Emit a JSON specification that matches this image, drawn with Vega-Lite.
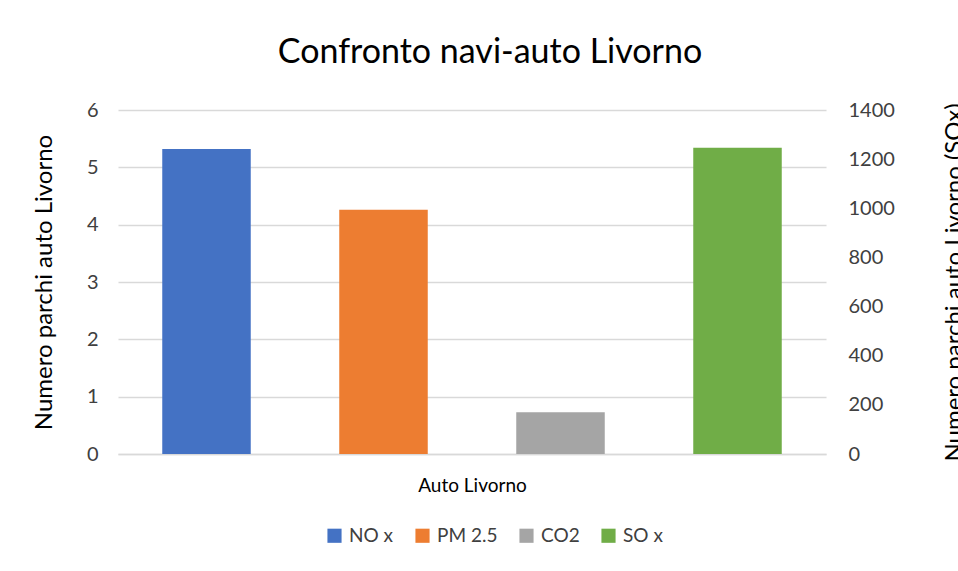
{
  "$schema": "https://vega.github.io/schema/vega-lite/v6.json",
  "width": 708,
  "height": 344,
  "autosize": {"type": "none"},
  "padding": {"left": 118, "top": 110, "right": 132, "bottom": 117},
  "background": "white",
  "title": {"text": "Confronto navi-auto Livorno", "font": "Lato", "fontSize": 34, "fontWeight": "normal", "color": "#000000", "anchor": "middle", "dx": 18, "offset": 30},
  "config": {
    "view": {"stroke": null},
    "axis": {"labelFont": "Lato", "titleFont": "Lato", "labelColor": "#404040", "titleColor": "#000000", "labelFontSize": 20, "titleFontSize": 24, "titleFontWeight": "normal", "labelOverlap": false, "labelFlush": false},
    "legend": {"labelFont": "Lato", "labelFontSize": 19, "labelColor": "#404040"}
  },
  "data": {"values": [
    {"series": "NO x", "value": 5.32},
    {"series": "PM 2.5", "value": 4.26},
    {"series": "CO2", "value": 0.73},
    {"series": "SO x", "value": 1246}
  ]},
  "encoding": {
    "x": {"field": "series", "type": "nominal", "sort": ["NO x", "PM 2.5", "CO2", "SO x"],
      "scale": {"paddingInner": 0.5, "paddingOuter": 0.25},
      "axis": {"labels": false, "ticks": false, "title": "Auto Livorno", "titleFontSize": 19, "titlePadding": 22, "domainColor": "#d9d9d9", "domainWidth": 1.5}},
    "color": {"field": "series", "type": "nominal",
      "scale": {"domain": ["NO x", "PM 2.5", "CO2", "SO x"], "range": ["#4472C4", "#ED7D31", "#A5A5A5", "#70AD47"]},
      "legend": {"title": null, "orient": "none", "direction": "horizontal", "legendX": 207, "legendY": 416, "symbolType": "square", "symbolSize": 200, "symbolStrokeWidth": 0, "columnPadding": 19, "labelOffset": 5}}
  },
  "layer": [
    {
      "transform": [{"filter": "datum.series !== 'SO x'"}],
      "mark": {"type": "bar"},
      "encoding": {
        "y": {"field": "value", "type": "quantitative", "scale": {"domain": [0, 6]},
          "axis": {"title": "Numero parchi auto Livorno", "values": [0,1,2,3,4,5,6], "ticks": false, "domain": false, "gridColor": "#d9d9d9", "gridWidth": 1.5, "labelPadding": 20, "titlePadding": 30}}
      }
    },
    {
      "transform": [{"filter": "datum.series === 'SO x'"}],
      "mark": {"type": "bar"},
      "encoding": {
        "y": {"field": "value", "type": "quantitative", "scale": {"domain": [0, 1400]},
          "axis": {"orient": "right", "title": "Numero parchi auto Livorno (SOx)", "titleAngle": 270, "titleBaseline": "bottom", "format": "d", "values": [0,200,400,600,800,1000,1200,1400], "ticks": false, "domain": false, "grid": false, "labelPadding": 22, "titlePadding": 72}}
      }
    }
  ],
  "resolve": {"scale": {"y": "independent"}}
}
